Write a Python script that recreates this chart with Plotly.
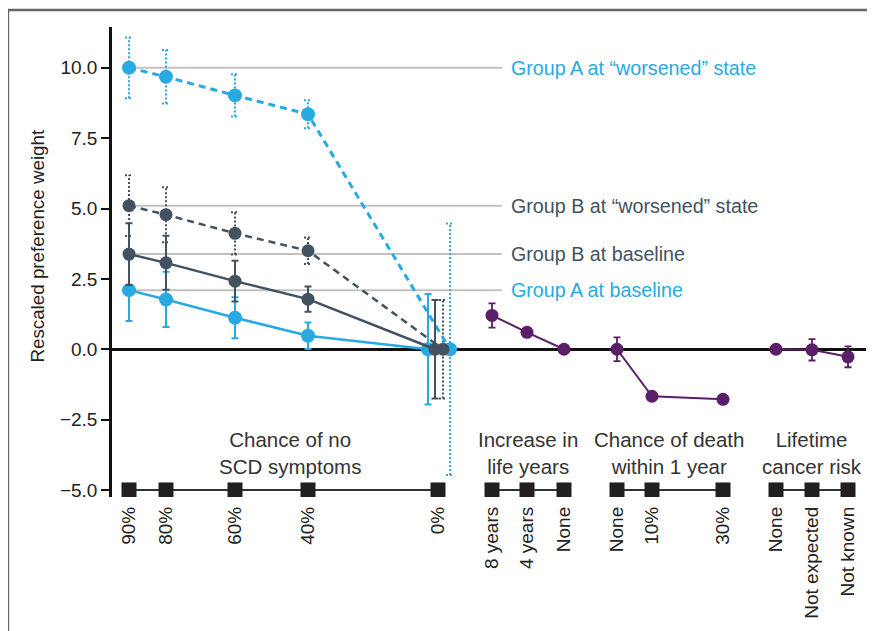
import plotly.graph_objects as go

# ---------------- data ----------------
scd_levels = ["90%", "80%", "60%", "40%", "0%"]
scd_pos = [17, 54, 123, 196, 326]

groupA_base = [2.10, 1.77, 1.12, 0.48, 0.0]
groupA_base_err = [1.10, 0.98, 0.73, 0.47, 1.96]
groupB_base = [3.38, 3.07, 2.42, 1.78, 0.0]
groupB_base_err = [1.10, 0.96, 0.72, 0.45, 1.75]
groupA_worse = [10.0, 9.68, 9.02, 8.35, 0.0]
groupA_worse_err = [1.08, 0.95, 0.75, 0.50, 4.47]
groupB_worse = [5.10, 4.78, 4.12, 3.50, 0.0]
groupB_worse_err = [1.08, 0.98, 0.75, 0.47, 1.75]

# horizontal dodge of the 0% points (only the last level is dodged)
dodge_A_base = [0, 0, 0, 0, -10]
dodge_B_base = [0, 0, 0, 0, -3]
dodge_B_worse = [0, 0, 0, 0, 5]
dodge_A_worse = [0, 0, 0, 0, 12]

life_levels = ["8 years", "4 years", "None"]
life_pos = [380, 415, 452]
life_vals = [1.20, 0.60, 0.0]
life_err = [0.43, 0.15, 0.0]

death_levels = ["None", "10%", "30%"]
death_pos = [505, 540, 611]
death_vals = [0.0, -1.67, -1.78]
death_err = [0.42, 0.0, 0.0]

cancer_levels = ["None", "Not expected", "Not known"]
cancer_pos = [664, 700, 736]
cancer_vals = [0.0, -0.02, -0.27]
cancer_err = [0.0, 0.38, 0.37]

group_titles = ["Chance of no<br>SCD symptoms", "Increase in<br>life years",
                "Chance of death<br>within 1 year", "Lifetime<br>cancer risk"]
group_title_pos = [178, 416, 557, 700]

ref_labels = ["Group A at “worsened” state", "Group B at “worsened” state",
              "Group B at baseline", "Group A at baseline"]

y_ticks = [-5, -2.5, 0, 2.5, 5, 7.5, 10]
y_ticktext = ["−5.0", "−2.5", "0.0", "2.5", "5.0", "7.5", "10.0"]

# ---------------- styles ----------------
BLUE = "#29a9e1"
DARK = "#425261"
PURPLE = "#5a1f68"
GRAY = "#c2c2c2"
FONT = "Liberation Sans, Arial, sans-serif"

fig = go.Figure()

# reference lines + labels
ref_vals = [groupA_worse[0], groupB_worse[0], groupB_base[0], groupA_base[0]]
ref_colors = [BLUE, DARK, DARK, BLUE]
for v, lab, c in zip(ref_vals, ref_labels, ref_colors):
    fig.add_trace(go.Scatter(x=[scd_pos[0], 390], y=[v, v], mode="lines",
                             line=dict(color=GRAY, width=2), hoverinfo="skip",
                             showlegend=False))
    fig.add_annotation(x=397, y=v, text=lab, showarrow=False, xanchor="left",
                       yanchor="middle", font=dict(family=FONT, size=19.7, color=c))


def xs(pos, dodge):
    return [p + d for p, d in zip(pos, dodge)]


def dotted_errors(x, y, err, color):
    ex, ey = [], []
    for xi, yi, e in zip(x, y, err):
        ex += [xi, xi, None, xi - 4, xi + 4, None, xi - 4, xi + 4, None]
        ey += [yi - e, yi + e, None, yi + e, yi + e, None, yi - e, yi - e, None]
    fig.add_trace(go.Scatter(x=ex, y=ey, mode="lines",
                             line=dict(color=color, width=2, dash="2px,2px"),
                             hoverinfo="skip", showlegend=False))


xAw = xs(scd_pos, dodge_A_worse)
xBw = xs(scd_pos, dodge_B_worse)
xAb = xs(scd_pos, dodge_A_base)
xBb = xs(scd_pos, dodge_B_base)

dotted_errors(xAw, groupA_worse, groupA_worse_err, BLUE)
dotted_errors(xBw, groupB_worse, groupB_worse_err, DARK)

# worsened series (dashed)
fig.add_trace(go.Scatter(x=xAw, y=groupA_worse, mode="lines+markers",
                         line=dict(color=BLUE, width=3, dash="7px,5px"),
                         marker=dict(color=BLUE, size=14), showlegend=False))
fig.add_trace(go.Scatter(x=xBw, y=groupB_worse, mode="lines+markers",
                         line=dict(color=DARK, width=2.5, dash="7px,5px"),
                         marker=dict(color=DARK, size=13), showlegend=False))

# baseline series (solid)
fig.add_trace(go.Scatter(x=xAb, y=groupA_base, mode="lines+markers",
                         line=dict(color=BLUE, width=2.5),
                         marker=dict(color=BLUE, size=14),
                         error_y=dict(type="data", array=groupA_base_err, color=BLUE,
                                      thickness=2, width=3.5),
                         showlegend=False))
fig.add_trace(go.Scatter(x=xBb, y=groupB_base, mode="lines+markers",
                         line=dict(color=DARK, width=2.5),
                         marker=dict(color=DARK, size=13),
                         error_y=dict(type="data", array=groupB_base_err, color=DARK,
                                      thickness=2, width=3.5),
                         showlegend=False))

# purple attributes
for pos, vals, err in [(life_pos, life_vals, life_err),
                       (death_pos, death_vals, death_err),
                       (cancer_pos, cancer_vals, cancer_err)]:
    fig.add_trace(go.Scatter(x=pos, y=vals, mode="lines+markers",
                             line=dict(color=PURPLE, width=2),
                             marker=dict(color=PURPLE, size=13),
                             error_y=dict(type="data", array=err, color=PURPLE,
                                          thickness=1.8, width=3.5),
                             showlegend=False))

# level squares along the bottom
for pos in [scd_pos, life_pos, death_pos, cancer_pos]:
    fig.add_trace(go.Scatter(x=pos, y=[-5] * len(pos), mode="lines+markers",
                             line=dict(color="#333333", width=2),
                             marker=dict(symbol="square", color="#231f20", size=15),
                             showlegend=False, hoverinfo="skip"))

for t, p in zip(group_titles, group_title_pos):
    fig.add_annotation(x=p, y=-3.7, text=t, showarrow=False, xanchor="center",
                       yanchor="middle", font=dict(family=FONT, size=20.5, color="#333333"))

all_pos = scd_pos + life_pos + death_pos + cancer_pos
all_labels = scd_levels + life_levels + death_levels + cancer_levels

# y axis title
fig.add_annotation(xref="paper", yref="paper", x=-0.1, y=0.534,
                   xanchor="center", yanchor="middle",
                   text="Rescaled preference weight", textangle=-90, showarrow=False,
                   font=dict(family=FONT, size=18.8, color="#222222"))

# outer frame
fig.add_shape(type="line", xref="paper", yref="paper", x0=-0.138, x1=1.05,
              y0=1.036, y1=1.036, line=dict(color="#666666", width=2.5))
fig.add_shape(type="line", xref="paper", yref="paper", x0=-0.138, x1=-0.138,
              y0=1.036, y1=-0.33, line=dict(color="#666666", width=2.5))

fig.update_layout(
    width=875, height=631,
    margin=dict(l=104, r=17, t=19, b=142),
    paper_bgcolor="white", plot_bgcolor="white",
    font=dict(family=FONT, size=19, color="#222222"),
    xaxis=dict(range=[0, 754], tickvals=all_pos, ticktext=all_labels, tickangle=-90,
               showgrid=False, zeroline=False, showline=False, ticks="",
               ticklabelstandoff=5,
               tickfont=dict(family=FONT, size=19, color="#222222")),
    yaxis=dict(range=[-5.25, 11.45], tickvals=y_ticks, ticktext=y_ticktext,
               showgrid=False, zeroline=True, zerolinecolor="#111111", zerolinewidth=2.5,
               showline=True, linecolor="#111111", linewidth=2.5,
               ticks="outside", ticklen=8, tickwidth=2, tickcolor="#111111",
               tickfont=dict(family=FONT, size=19, color="#222222")),
)

fig.write_html("out.html")
